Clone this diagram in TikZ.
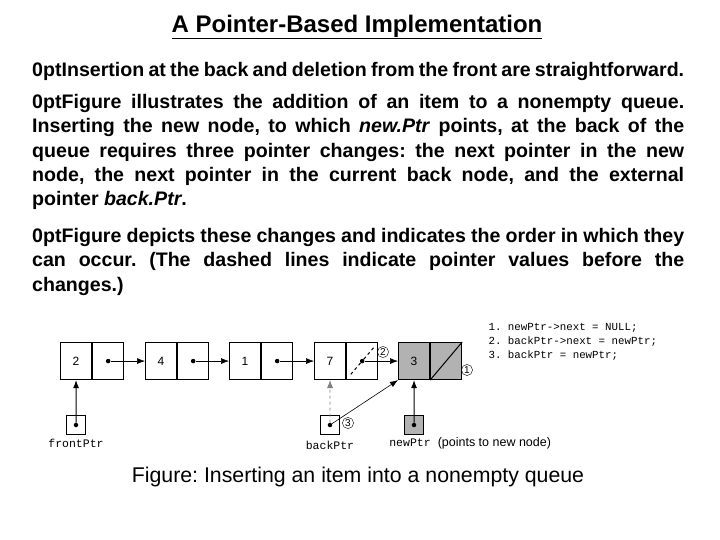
\documentclass[tikz,border=0pt]{standalone}
\usepackage{fontspec}
\setmainfont{Liberation Sans}
\setmonofont{Liberation Mono}
\usetikzlibrary{arrows.meta}
\begin{document}
\frenchspacing
\begin{tikzpicture}[x=1pt,y=-1pt,
  cell/.style={draw,line width=1.1pt,minimum height=37pt,minimum width=31pt,inner sep=0pt,font=\fontsize{12}{14}\selectfont},
  ptrbox/.style={draw,line width=1pt,minimum size=19pt,inner sep=0pt},
  lnk/.style={-{Latex[length=8pt,width=6pt]},line width=0.6pt},
  dot/.style={circle,fill,inner sep=1.6pt},
  num/.style={circle,draw,inner sep=0.8pt,font=\fontsize{10}{11}\selectfont},
  para/.style={anchor=north west,text width=652pt,align=justify,inner sep=0pt,font=\fontsize{19.6}{24.3}\selectfont\bfseries\hyphenpenalty=10000\emergencystretch=3em},
  lab/.style={font=\ttfamily\fontsize{11.5}{12}\selectfont}]
\useasboundingbox (0,0) rectangle (720,540);
\node (title) at (357,27) {\fontsize{24}{26}\selectfont\bfseries\underline{A Pointer-Based Implementation}};
\node[para] (p1) at (32,62) {Insertion at the back and deletion from the front are straightforward.};
\node[para] (p2) at (32,94) {Figure illustrates the addition of an item to a nonempty queue.\linebreak Inserting the new node, to which \textit{new.Ptr} points, at the back of the\linebreak queue requires three pointer changes: the next pointer in the new\linebreak node, the next pointer in the current back node, and the external\linebreak pointer \textit{back.Ptr}.};
\node[para] (p3) at (32,228) {Figure depicts these changes and indicates the order in which they\linebreak can occur. (The dashed lines indicate pointer values before the\linebreak changes.)};
% nodes
\foreach \n/\x/\v in {a/60/2,b/145/4,c/229/1,d/314/7}{
  \node[cell,anchor=north west] (\n v) at (\x,342) {\v};
  \node[cell,anchor=west] (\n p) at (\n v.east) {};
  \node[dot] (\n d) at (\n p.center) {};
}
\node[cell,anchor=north west,fill=gray!60] (ev) at (398,342) {3};
\node[cell,anchor=west,fill=gray!60] (ep) at (ev.east) {};
\draw[line width=1pt] (ep.south west) -- (ep.north east);
\draw[lnk] (ad) -- (bv.west);
\draw[lnk] (bd) -- (cv.west);
\draw[lnk] (cd) -- (dv.west);
\draw[lnk] (dd) -- (ev.west);
\draw[line width=1pt,dashed] (dd) -- +(12,-14) (dd) -- +(-12,14);
% pointers
\node[ptrbox] (fp) at (76,425) {};
\node[dot] (fpd) at (fp.center) {};
\node[ptrbox] (bp) at (330,425) {};
\node[dot] (bpd) at (bp.center) {};
\node[ptrbox,fill=gray!60] (np) at (414,425) {};
\node[dot] (npd) at (np.center) {};
\draw[lnk,line width=1pt] (fpd) -- (av.south);
\draw[lnk,dashed,gray] (bpd) -- (dv.south);
\draw[lnk] (bpd) -- (ev.south west);
\draw[lnk,line width=1pt] (npd) -- (ev.south);
\node[lab] (fl) at (76,443) {frontPtr};
\node[lab] (bl) at (330,445) {backPtr};
\node[lab] (nl) at (410,443) {newPtr};
\node[anchor=west,font=\fontsize{12.5}{13}\selectfont] (nt) at (nl.east) {(points to new node)};
\node[num] (n2) at (383,352) {2};
\node[num] (n1) at (467,370) {1};
\node[num] (n3) at (348,423) {3};
\node[lab,anchor=north west,align=left,font=\ttfamily\fontsize{10.8}{14}\selectfont] (code) at (485,320) {1. newPtr->next = NULL;\\2. backPtr->next = newPtr;\\3. backPtr = newPtr;};
\node (cap) at (358,477) {\fontsize{21.3}{23}\selectfont Figure: Inserting an item into a nonempty queue};
\end{tikzpicture}
\end{document}
